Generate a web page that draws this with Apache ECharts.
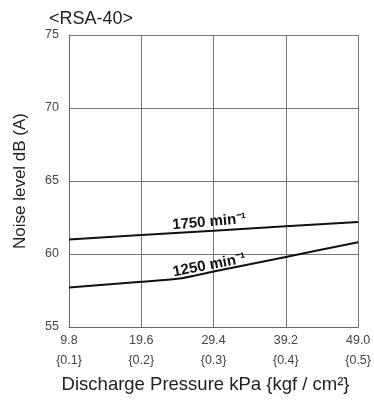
<!DOCTYPE html>
<html>
<head>
<meta charset="utf-8">
<script src="https://cdn.jsdelivr.net/npm/echarts@6/dist/echarts.min.js"></script>
<style>
  html, body { margin: 0; padding: 0; background: #ffffff; }
  #chart { width: 374px; height: 401px; }
</style>
</head>
<body>
<div id="chart"></div>
<script>
// Discharge pressure (kPa) and the matching kgf/cm2 values shown beneath
const pressureKpa = [9.8, 19.6, 29.4, 39.2, 49.0];
const pressureKgf = ['0.1', '0.2', '0.3', '0.4', '0.5'];

// Noise level dB(A) for each rotation speed
const pressure1750 = [9.8, 19.6, 29.4, 39.2, 49.0];
const noise1750 = [61.0, 61.3, 61.6, 61.9, 62.2];
const pressure1250 = [9.8, 19.6, 24.5, 29.4, 39.2, 49.0];
const noise1250 = [57.7, 58.1, 58.3, 58.8, 59.8, 60.8];

const font = 'Liberation Sans, Arial, sans-serif';

function pairs(xs, ys) {
  return xs.map((x, i) => [x, ys[i]]);
}

// Put a rotated speed label on one point of a curve
function labelled(data, idx, text, rotate, offset) {
  return data.map((p, i) => i === idx ? {
    value: p,
    label: {
      show: true, formatter: text, position: 'top', rotate: rotate, offset: offset,
      align: 'center', verticalAlign: 'middle',
      color: '#111', fontSize: 15, fontWeight: 'bold', fontFamily: font
    }
  } : p);
}

const chart = echarts.init(document.getElementById('chart'), null, { renderer: 'canvas' });
chart.setOption({
  animation: false,
  backgroundColor: '#ffffff',
  title: {
    text: '<RSA-40>', left: 44, top: 5,
    textStyle: { fontSize: 18, fontWeight: 'normal', color: '#222', fontFamily: font }
  },
  grid: { left: 69, right: 15, top: 35, bottom: 74 },
  xAxis: {
    type: 'value', min: 9.8, max: 49.0, interval: 9.8,
    name: 'Discharge Pressure kPa {kgf / cm\u00b2}',
    nameLocation: 'middle', nameGap: 46,
    nameTextStyle: { fontSize: 18.5, color: '#222', fontFamily: font, padding: [0, 16, 0, 0] },
    axisLine: { show: true, lineStyle: { color: '#666', width: 1 } },
    axisTick: { show: false },
    axisLabel: {
      margin: 4, fontSize: 12.5, color: '#444', fontFamily: font, lineHeight: 20,
      formatter: v => {
        const i = pressureKpa.findIndex(p => Math.abs(p - v) < 1e-6);
        return i < 0 ? '' : pressureKpa[i].toFixed(1) + '\n{' + pressureKgf[i] + '}';
      }
    },
    splitLine: { show: true, lineStyle: { color: '#777', width: 1 } }
  },
  yAxis: {
    type: 'value', min: 55, max: 75, interval: 5,
    name: 'Noise level dB (A)',
    nameLocation: 'middle', nameGap: 40, nameRotate: 90,
    nameTextStyle: { fontSize: 17, color: '#222', fontFamily: font },
    axisLine: { show: true, lineStyle: { color: '#666', width: 1 } },
    axisTick: { show: false },
    axisLabel: { margin: 10, fontSize: 12.5, color: '#444', fontFamily: font, padding: [0, 0, 5, 0] },
    splitLine: { show: true, lineStyle: { color: '#777', width: 1 } }
  },
  series: [
    {
      name: '1750', type: 'line', symbol: 'circle', symbolSize: 0, showSymbol: true, smooth: false,
      lineStyle: { color: '#111', width: 2 }, itemStyle: { color: '#111' },
      data: labelled(pairs(pressure1750, noise1750), 2, '1750 min\u207b\u00b9', 5, [-4, -4])
    },
    {
      name: '1250', type: 'line', symbol: 'circle', symbolSize: 0, showSymbol: true, smooth: 0.3,
      lineStyle: { color: '#111', width: 2 }, itemStyle: { color: '#111' },
      data: labelled(pairs(pressure1250, noise1250), 3, '1250 min\u207b\u00b9', 11, [-4, -2])
    }
  ]
});
</script>
</body>
</html>
